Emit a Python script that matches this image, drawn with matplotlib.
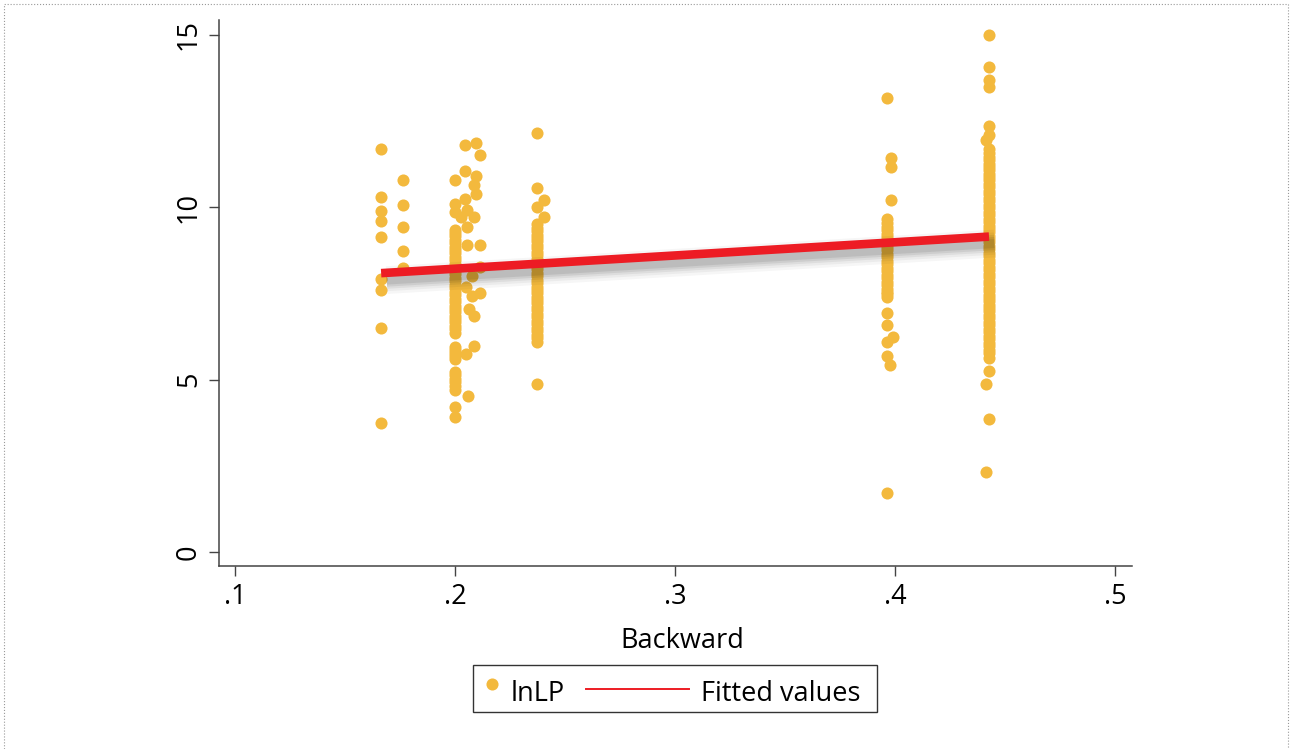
import matplotlib
matplotlib.use("Agg")
import matplotlib.pyplot as plt
import matplotlib.patheffects as pe
from matplotlib.patches import Rectangle
from matplotlib.lines import Line2D

plt.rcParams['font.family'] = ['Open Sans', 'DejaVu Sans']

# ---------------- data ----------------
# Backward value of each column and its lnLP values
bw_a = 0.1664
lnlp_a = [11.69, 10.30, 9.89, 9.60, 9.14, 7.92, 7.60, 6.50, 3.74]

bw_b = 0.1764
lnlp_b = [10.79, 10.06, 9.44, 8.73, 8.23]

bw_c = 0.2000
lnlp_c = [10.79, 10.09, 9.87,
          9.34, 9.25, 9.16, 9.05, 8.96, 8.85, 8.76, 8.66, 8.55, 8.46, 8.35, 8.26,
          8.15, 8.06, 7.95, 7.86, 7.75, 7.66, 7.55, 7.46, 7.35, 7.26, 7.15, 7.05,
          6.95, 6.86, 6.75, 6.66, 6.55, 6.46, 6.34,
          5.96, 5.86, 5.77, 5.68, 5.60,
          5.23, 5.13, 5.02, 4.92, 4.81, 4.70,
          4.22, 3.93]

# scattered points just right of .2
bw_d = [0.2045, 0.2094, 0.2114, 0.2045, 0.2094, 0.2086, 0.2095, 0.2045, 0.2056,
        0.2086, 0.2027, 0.2056, 0.2056, 0.2114, 0.2114, 0.2076, 0.2049, 0.2076,
        0.2114, 0.2064, 0.2086, 0.2086, 0.2049, 0.2058]
lnlp_d = [11.81, 11.87, 11.52, 11.06, 10.91, 10.65, 10.38, 10.23, 9.92,
          9.71, 9.71, 9.44, 8.91, 8.91, 8.28, 8.01, 7.70, 7.43,
          7.52, 7.04, 6.85, 5.99, 5.74, 4.53]

bw_e = 0.2373
lnlp_e = [12.15, 10.55, 10.02,
          9.51, 9.41, 9.30, 9.21, 9.10, 9.01, 8.90, 8.81, 8.70, 8.61, 8.50, 8.41,
          8.30, 8.21, 8.10, 8.01, 7.90, 7.81, 7.70, 7.61, 7.50, 7.41, 7.30, 7.21,
          7.10, 7.01, 6.90, 6.81, 6.70, 6.61, 6.50, 6.41, 6.30, 6.20, 6.08,
          4.88]

bw_f = 0.2405
lnlp_f = [10.21, 9.71]

bw_g = 0.3965
lnlp_g = [13.17,
          9.65, 9.55, 9.44, 9.35, 9.24, 9.15, 9.04, 8.95, 8.84, 8.75, 8.64, 8.55,
          8.44, 8.35, 8.24, 8.15, 8.04, 7.95, 7.84, 7.75, 7.64, 7.55, 7.48, 7.41,
          6.92, 6.59, 6.10, 5.69, 1.70]

bw_h = [0.3980, 0.3980, 0.3980, 0.3992, 0.3979]
lnlp_h = [11.44, 11.18, 10.20, 6.25, 5.43]

bw_i = 0.4427
lnlp_i = [15.00, 14.08, 13.69, 13.50, 12.36, 12.10,
          11.68, 11.58, 11.47, 11.38, 11.27, 11.18, 11.07, 10.98, 10.87, 10.78,
          10.67, 10.58, 10.47, 10.38, 10.27, 10.18, 10.07, 9.98, 9.87, 9.78,
          9.67, 9.58, 9.47, 9.38, 9.27, 9.18, 9.07, 8.98, 8.87, 8.78, 8.67,
          8.58, 8.47, 8.38, 8.27, 8.18, 8.07, 7.98, 7.87, 7.78, 7.67, 7.58,
          7.47, 7.38, 7.27, 7.18, 7.07, 6.98, 6.87, 6.78, 6.67, 6.58, 6.47,
          6.38, 6.27, 6.18, 6.07, 5.98, 5.87, 5.78, 5.63,
          5.26, 3.86]

bw_j = 0.4414
lnlp_j = [11.95, 4.87, 2.31]

# fitted values line (end points)
fit_x = [0.1664, 0.4427]
fit_y = [8.09, 9.15]

x_ticks = [0.1, 0.2, 0.3, 0.4, 0.5]
x_ticklabels = ['.1', '.2', '.3', '.4', '.5']
y_ticks = [0, 5, 10, 15]
y_ticklabels = ['0', '5', '10', '15']
x_title = 'Backward'
legend_labels = ['lnLP', 'Fitted values']

# ---------------- assemble ----------------
xs, ys = [], []
for bx, vals in [(bw_a, lnlp_a), (bw_b, lnlp_b), (bw_c, lnlp_c), (bw_e, lnlp_e),
                 (bw_f, lnlp_f), (bw_g, lnlp_g), (bw_i, lnlp_i), (bw_j, lnlp_j)]:
    xs += [bx] * len(vals)
    ys += list(vals)
xs += bw_d; ys += lnlp_d
xs += bw_h; ys += lnlp_h

GOLD = '#F3B93D'
RED = '#ED1C24'
FS = 19.5
W, H = 1290, 749

fig = plt.figure(figsize=(12.9, 7.49), dpi=100)
fx = lambda p: p / W
fy = lambda p: 1 - p / H

ax = fig.add_axes([fx(219), fy(566), fx(1132) - fx(219), fy(20) - fy(566)])
ax.plot(xs, ys, linestyle='none', marker='o', markersize=8.7,
        markerfacecolor=GOLD, markeredgecolor='none', zorder=2)

shadows = [pe.SimpleLineShadow(offset=(4, -5), shadow_color='black', alpha=a,
                               linewidth=w)
           for w, a in ((20, 0.035), (16, 0.045), (12.5, 0.06), (9.5, 0.07), (6.5, 0.08))]
ax.plot(fit_x, fit_y, color=RED, linewidth=6.2, solid_capstyle='butt', zorder=3,
        path_effects=shadows + [pe.Normal()])

ax.set_xlim(0.0927, 0.5077)
ax.set_ylim(-0.406, 15.434)
ax.set_xticks(x_ticks)
ax.set_xticklabels(x_ticklabels)
ax.set_yticks(y_ticks)
ax.set_yticklabels(y_ticklabels, rotation=90, va='center')

for s in ['top', 'right']:
    ax.spines[s].set_visible(False)
for s in ['left', 'bottom']:
    ax.spines[s].set_color('#444444')
    ax.spines[s].set_linewidth(1.1)
ax.tick_params(axis='both', direction='out', length=7.5, width=1.0,
               color='#444444', labelsize=FS, labelcolor='black')
ax.tick_params(axis='x', pad=4.5)
ax.tick_params(axis='y', pad=4)

ax.set_xlabel(x_title, fontsize=FS)
ax.xaxis.label.set_va('baseline')
ax.xaxis.set_label_coords((682 - 219) / 913, -(648 - 566) / 546)

# ---------------- legend (Stata style) ----------------
fig.patches.append(Rectangle((fx(473), fy(712)), fx(877) - fx(473), fy(665) - fy(712),
                             transform=fig.transFigure, facecolor='white',
                             edgecolor='#333333', linewidth=1.0))
fig.lines.append(Line2D([fx(492)], [fy(684)], transform=fig.transFigure, marker='o',
                        markersize=8.7, markerfacecolor=GOLD, markeredgecolor='none',
                        linestyle='none'))
fig.text(fx(511), fy(701), legend_labels[0], fontsize=FS, va='baseline', ha='left')
fig.lines.append(Line2D([fx(586), fx(689)], [fy(689), fy(689)], transform=fig.transFigure,
                        color=RED, linewidth=1.4))
fig.text(fx(701), fy(701), legend_labels[1], fontsize=FS, va='baseline', ha='left')

# outer dotted frame
fig.patches.append(Rectangle((fx(4), fy(760)), fx(1288) - fx(4), fy(4) - fy(760),
                             transform=fig.transFigure, facecolor='none',
                             edgecolor='#999999', linewidth=0.8, linestyle=':'))

fig.savefig('out.png', dpi=100)
